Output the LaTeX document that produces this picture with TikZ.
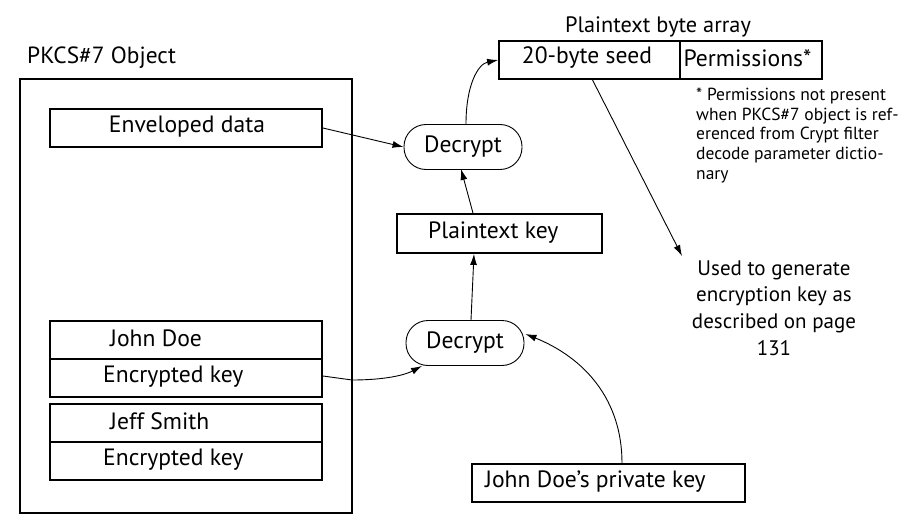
\documentclass[tikz,border=0pt]{standalone}
\usepackage{fontspec}
\setmainfont{PT Sans}
\usetikzlibrary{arrows.meta}
\begin{document}
\begin{tikzpicture}[x=1pt,y=-1pt,
  box/.style={draw,line width=1.8pt,inner sep=0pt},
  pill/.style={draw,line width=0.9pt,rounded corners=22pt,minimum width=118pt,minimum height=45pt,inner sep=0pt,font=\fontsize{23.6}{28}\selectfont},
  lbl/.style={inner sep=0pt,font=\fontsize{23.6}{28}\selectfont},
  arr/.style={line width=0.9pt,-{Latex[length=11pt,width=7pt]}},
  plain/.style={line width=0.9pt}]
\useasboundingbox (0,0) rectangle (922,527);
% outer object
\node[box,minimum width=332pt,minimum height=434pt] (obj) at (186,296) {};
\node[lbl,anchor=west,font=\fontsize{23.4}{28}\selectfont] (objlbl) at (27,58) {PKCS\#7 Object};
% enveloped data
\node[box,minimum width=272pt,minimum height=38pt] (env) at (186,128) {};
\node[lbl] (envt) at (187,127) {Enveloped data};
% recipients
\node[box,minimum width=272pt,minimum height=38pt] (jd) at (186,340) {};
\node[lbl,anchor=west] (jdt) at (110,338) {John Doe};
\node[box,minimum width=272pt,minimum height=38pt] (ek1) at (186,378) {};
\node[lbl,anchor=west] (ek1t) at (103,377) {Encrypted key};
\node[box,minimum width=272pt,minimum height=38pt] (js) at (186,423) {};
\node[lbl,anchor=west] (jst) at (110,421) {Jeff Smith};
\node[box,minimum width=272pt,minimum height=38pt] (ek2) at (186,461) {};
\node[lbl,anchor=west] (ek2t) at (103,460) {Encrypted key};
% decrypt nodes
\node[pill] (d1) at (463,147) {Decrypt};
\node[pill] (d2) at (465,343) {Decrypt};
% plaintext key
\node[box,minimum width=205pt,minimum height=39pt] (pk) at (499.5,233.5) {};
\node[lbl,anchor=west] (pkt) at (428,233) {Plaintext key};
% byte array
\node[lbl,font=\fontsize{22.3}{26}\selectfont] (bal) at (658,27) {Plaintext byte array};
\node[box,minimum width=181pt,minimum height=38pt] (seed) at (589.5,60) {};
\node[lbl] (seedt) at (587,58) {20-byte seed};
\node[box,minimum width=142pt,minimum height=38pt] (perm) at (751,60) {};
\node[lbl] (permt) at (747.5,58) {Permissions*};
% footnote
\node[anchor=north west,inner sep=0pt,align=left,font=\fontsize{17.5}{19.6}\selectfont] (note) at (696,88)
  {* Permissions not present\\when PKCS\#7 object is ref-\\erenced from Crypt filter\\decode parameter dictio-\\nary};
% used to generate
\node[align=center,inner sep=0pt,font=\fontsize{21}{26.8}\selectfont] (used) at (774,308)
  {Used to generate\\encryption key as\\described on page\\131};
\coordinate (usedtip) at (682,256);
% private key
\node[box,minimum width=273pt,minimum height=38pt] (priv) at (608.5,483) {};
\node[lbl,anchor=west] (privt) at (485,482) {John Doe’s private key};
% connectors
\draw[arr] (env.east) -- (d1.west);
\draw[arr] ([xshift=3pt]d1.north) .. controls (466,85) and (478,64) .. (seed.west);
\draw[arr] ([xshift=-26.5pt]pk.north) -- ([xshift=-2pt,yshift=1pt]d1.south);
\draw[arr] ([xshift=6pt]d2.north) -- ([xshift=-25.5pt]pk.south);
\draw[arr] ([yshift=2pt]ek1.east) -- (352,380) .. controls (385,380) and (405,375) .. ([xshift=-43pt]d2.south);
\draw[arr] ([xshift=13.5pt]priv.north) .. controls (622,400) and (585,358) .. ([xshift=1pt,yshift=9pt]d2.east);
\draw[arr] ([xshift=3pt]seed.south) -- (usedtip);
\end{tikzpicture}
\end{document}
